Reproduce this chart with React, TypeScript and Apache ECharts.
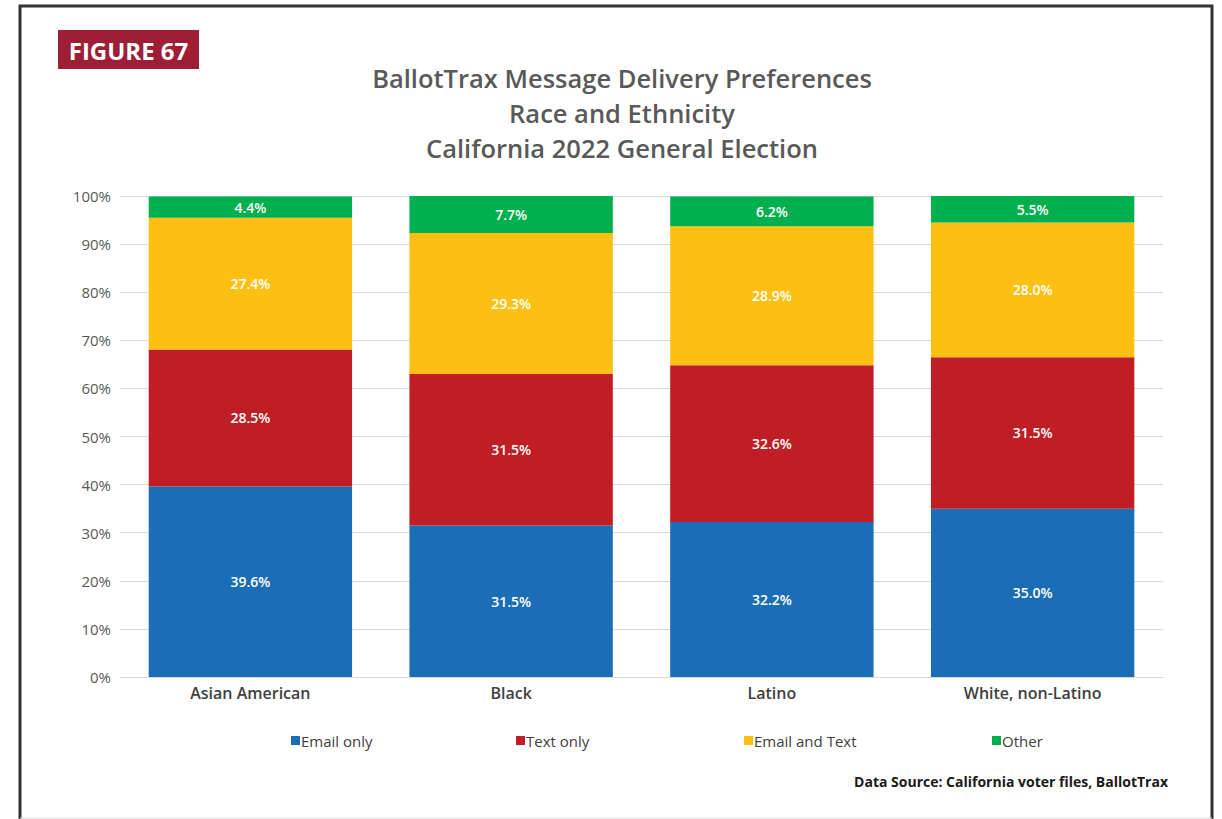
import React, { useEffect, useRef } from "react";
import * as echarts from "echarts";

const categories = ["Asian American", "Black", "Latino", "White, non-Latino"];
const emailOnly = [39.6, 31.5, 32.2, 35.0];
const textOnly = [28.5, 31.5, 32.6, 31.5];
const emailAndText = [27.4, 29.3, 28.9, 28.0];
const other = [4.4, 7.7, 6.2, 5.5];
const seriesNames = ["Email only", "Text only", "Email and Text", "Other"];
const seriesColors = ["#1b6db5", "#be1e24", "#fcbf12", "#00b04f"];
const titleLines = [
  "BallotTrax Message Delivery Preferences",
  "Race and Ethnicity",
  "California 2022 General Election",
];

const FONT = "'Open Sans', 'Noto Sans', sans-serif";

export default function App() {
  const ref = useRef<HTMLDivElement>(null);
  useEffect(() => {
    if (!ref.current) return;
    const chart = echarts.init(ref.current, undefined, { renderer: "svg" });
    const dataSets = [emailOnly, textOnly, emailAndText, other];
    const legendX = [286, 511, 739, 987];
    chart.setOption({
      animation: false,
      backgroundColor: "#ffffff",
      textStyle: { fontFamily: FONT },
      title: {
        text: titleLines.join("\n"),
        left: 617,
        textAlign: "center",
        top: 55,
        textStyle: {
          fontFamily: FONT,
          fontSize: 25.5,
          fontWeight: 600,
          color: "#595959",
          lineHeight: 35,
        },
      },
      legend: seriesNames.map((n, i) => ({
        data: [n],
        left: legendX[i],
        top: 728,
        itemWidth: 9,
        itemHeight: 9,
        itemGap: 0,
        icon: "rect",
        textStyle: { fontFamily: FONT, fontSize: 15, color: "#404040", padding: [0, 0, 0, -4] },
        selectedMode: false,
      })),
      grid: { left: 120, right: 59, top: 196, bottom: 142, containLabel: false },
      xAxis: {
        type: "category",
        data: categories,
        axisLine: { show: true, lineStyle: { color: "#d9d9d9", width: 1 } },
        axisTick: { show: false },
        axisLabel: {
          fontFamily: FONT,
          fontSize: 16,
          fontWeight: 600,
          color: "#404040",
          margin: 8,
        },
      },
      yAxis: {
        type: "value",
        min: 0,
        max: 100,
        interval: 10,
        axisLine: { show: false },
        axisTick: { show: false },
        splitLine: { lineStyle: { color: "#d9d9d9", width: 1 } },
        axisLabel: {
          fontFamily: FONT,
          fontSize: 15,
          color: "#595959",
          margin: 9,
          formatter: (v: number) => v + "%",
        },
      },
      series: seriesNames.map((n, i) => ({
        name: n,
        type: "bar",
        stack: "total",
        barWidth: "78%",
        data: dataSets[i],
        itemStyle: { color: seriesColors[i] },
        label: {
          show: true,
          position: "inside",
          color: "#ffffff",
          fontFamily: FONT,
          fontSize: 14,
          fontWeight: 600,
          formatter: (p: any) => Number(p.value).toFixed(1) + "%",
        },
      })),
      graphic: [
        {
          type: "polyline",
          shape: { points: [[20, 819], [20, 6], [1212, 6], [1212, 819]] },
          style: { stroke: "#333333", lineWidth: 3, fill: null },
          silent: true,
        },
        {
          type: "line",
          shape: { x1: 20, y1: 818, x2: 1212, y2: 818 },
          style: { stroke: "#e0e0e0", lineWidth: 1 },
          silent: true,
        },
        {
          type: "rect",
          shape: { x: 58, y: 30, width: 141, height: 39 },
          style: { fill: "#9e1e35" },
          silent: true,
        },
        {
          type: "text",
          x: 128.5,
          y: 50,
          style: {
            text: "FIGURE 67",
            fill: "#ffffff",
            font: `700 24px ${FONT}`,
            align: "center",
            verticalAlign: "middle",
          },
          silent: true,
        },
        {
          type: "text",
          x: 1168,
          y: 781,
          style: {
            text: "Data Source: California voter files, BallotTrax",
            fill: "#1a1a1a",
            font: `700 14px ${FONT}`,
            align: "right",
            verticalAlign: "middle",
          },
          silent: true,
        },
      ],
    });
    return () => chart.dispose();
  }, []);
  return (
    <div
      ref={ref}
      style={{ width: 1222, height: 819, position: "absolute", left: 0, top: 0 }}
    />
  );
}
